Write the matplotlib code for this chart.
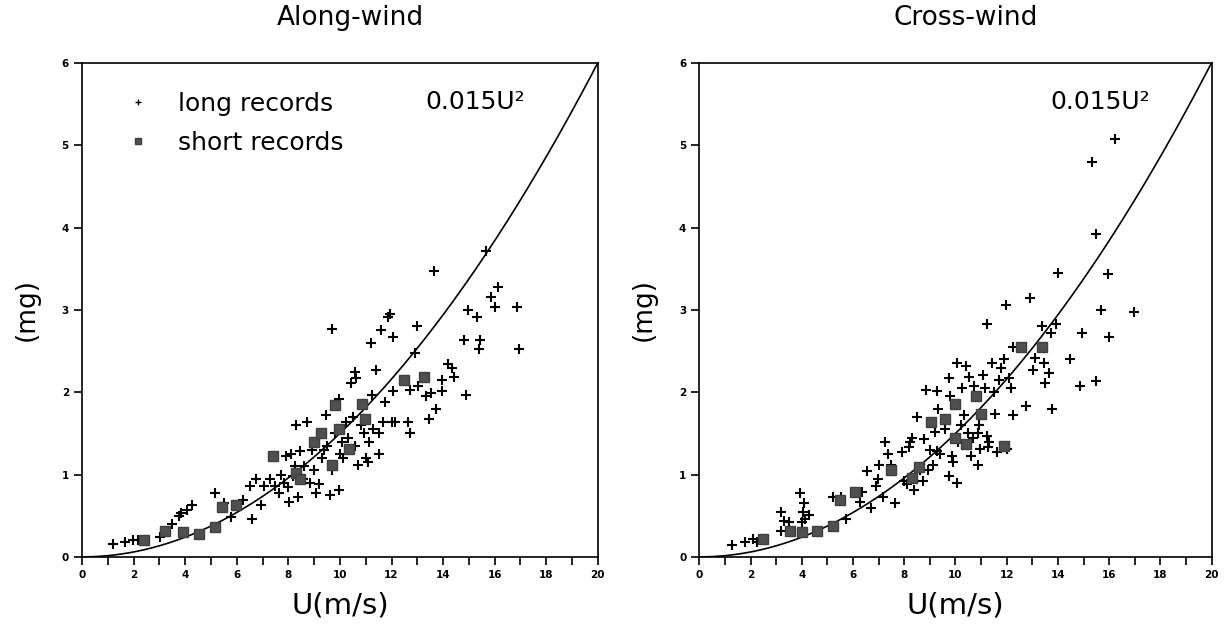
import numpy as np
import matplotlib
matplotlib.use("Agg")
import matplotlib.pyplot as plt
from matplotlib.ticker import MultipleLocator

# Along-wind, long records (U m/s, acceleration mg)
along_long_u = [1.21, 1.65, 1.99, 2.15, 3.02, 3.5, 3.77, 3.84, 4.05, 4.26, 5.15, 5.49, 5.77,
                6.25, 6.52, 6.59, 6.73, 6.93, 7.07, 7.27, 7.48, 7.62, 7.82, 7.89, 8.03, 8.1,
                8.17, 8.24, 8.37, 8.3, 8.44, 8.58, 8.72, 8.85, 9.06, 9.2, 9.47, 9.6, 9.68,
                9.95, 9.95, 10.09, 10.23, 10.43, 10.57, 10.64, 10.7, 10.92, 11.12, 11.19,
                11.26, 11.39, 11.53, 11.6, 11.66, 11.74, 11.87, 11.94, 12.01, 12.07, 12.07,
                12.14, 12.63, 12.7, 12.7, 12.9, 12.97, 13.04, 13.32, 13.45, 13.52, 13.66,
                13.73, 13.94, 13.94, 14.21, 14.35, 14.42, 14.83, 14.9, 14.97, 15.31, 15.38,
                15.44, 15.65, 15.86, 16.0, 16.13, 16.88, 16.95,
                8.9, 9.1, 9.3, 9.5, 9.8, 10.0, 10.3, 10.5, 10.8, 11.0, 11.3, 11.5, 8.6,
                9.0, 9.4, 9.7, 10.1, 10.6, 11.1, 7.7, 8.0, 8.5]
along_long_a = [0.156, 0.185, 0.2, 0.21, 0.24, 0.4, 0.5, 0.53, 0.57, 0.63, 0.77, 0.65, 0.49,
                0.69, 0.86, 0.46, 0.94, 0.63, 0.86, 0.94, 0.86, 0.77, 0.9, 1.23, 0.67, 1.25,
                0.98, 1.1, 0.73, 1.6, 1.29, 0.94, 1.64, 0.9, 0.77, 0.88, 1.72, 0.75, 2.77,
                0.81, 1.92, 1.39, 1.64, 2.11, 2.24, 2.17, 1.12, 1.51, 1.39, 2.6,
                1.97, 2.27, 1.25, 2.75, 1.64, 1.88, 2.91, 2.95, 1.64, 2.67, 2.01,
                1.64, 1.64, 1.51, 2.03, 2.48, 2.81, 2.07, 1.95, 1.68, 1.99, 3.47,
                1.8, 2.15, 2.01, 2.34, 2.3, 2.19, 2.64, 1.97, 3.0, 2.91, 2.52,
                2.64, 3.72, 3.16, 3.04, 3.28, 3.04, 2.52,
                1.3, 1.45, 1.2, 1.35, 1.5, 1.25, 1.45, 1.7, 1.6, 1.2, 1.55, 1.5, 1.1,
                1.05, 1.3, 1.05, 1.2, 1.35, 1.15, 1.0, 0.85, 0.95]
# Along-wind, short records
along_short_u = [2.4, 3.2, 3.91, 4.53, 5.15, 5.42, 5.97, 7.41, 8.3, 8.45, 8.99, 9.27, 9.68,
                 9.82, 9.95, 10.36, 10.85, 10.99, 12.49, 13.25]
along_short_a = [0.2, 0.32, 0.3, 0.28, 0.36, 0.61, 0.63, 1.23, 1.02, 0.95, 1.39, 1.51, 1.12,
                 1.84, 1.55, 1.31, 1.86, 1.68, 2.15, 2.19]

# Cross-wind, long records
cross_long_u = [1.28, 1.76, 2.09, 2.23, 3.18, 3.31, 3.18, 3.51, 3.92, 3.99, 4.05, 4.09, 4.12,
                4.26, 5.2, 5.54, 5.74, 6.35, 6.28, 6.55, 6.69, 6.89, 6.96, 7.03, 7.16, 7.23,
                7.36, 7.5, 7.64, 7.91, 7.97, 8.11, 8.18, 8.24, 8.31, 8.38, 8.51, 8.72, 8.78,
                8.85, 8.92, 9.12, 9.19, 9.26, 9.26, 9.32, 9.73, 9.73, 9.8, 9.86, 10.07, 10.07,
                10.2, 10.27, 10.34, 10.41, 10.54, 10.61, 10.74, 10.88, 10.88, 10.95, 11.08,
                11.15, 11.22, 11.22, 11.28, 11.42, 11.49, 11.55, 11.62, 11.69, 11.76, 11.89,
                11.96, 12.03, 12.09, 12.16, 12.23, 12.23, 12.77, 12.91, 13.04, 13.11, 13.38,
                13.45, 13.51, 13.65, 13.72, 13.78, 13.92, 13.99, 14.46, 14.86, 14.93, 15.34,
                15.47, 15.47, 15.68, 15.95, 16.01, 16.22, 16.96,
                9.0, 9.4, 9.6, 10.1, 10.5, 10.9, 11.3, 8.6, 9.9, 10.7]
cross_long_a = [0.14, 0.18, 0.22, 0.18, 0.55, 0.44, 0.32, 0.42, 0.77, 0.42, 0.55, 0.65, 0.46,
                0.51, 0.73, 0.73, 0.46, 0.79, 0.67, 1.04, 0.59, 0.86, 0.94, 1.12, 0.73, 1.39,
                1.25, 1.12, 0.65, 1.27, 0.92, 0.88, 1.33, 1.39, 1.45, 0.81, 1.7, 0.92, 1.43,
                2.03, 1.06, 1.12, 1.52, 2.01, 1.29, 1.8, 0.98, 2.17, 1.95, 1.23, 0.9, 2.36,
                1.6, 2.05, 1.72, 2.32, 2.19, 1.23, 2.08, 1.5, 1.12, 1.31, 2.21,
                2.05, 2.83, 1.47, 1.33, 2.36, 2.0, 1.74, 1.27, 2.15, 2.3, 2.4,
                3.06, 1.31, 2.17, 2.05, 2.55, 1.72, 1.83, 3.15, 2.27, 2.42, 2.8,
                2.36, 2.11, 2.23, 2.72, 1.8, 2.83, 3.45, 2.4, 2.08, 2.72, 4.79,
                3.92, 2.14, 3.0, 3.43, 2.67, 5.07, 2.98,
                1.3, 1.25, 1.55, 1.4, 1.5, 1.6, 1.4, 1.05, 1.15, 1.45]
# Cross-wind, short records
cross_short_u = [2.5, 3.55, 4.01, 4.59, 5.2, 5.47, 6.08, 7.5, 8.31, 8.58, 9.05, 9.59, 10.0,
                 10.0, 10.41, 10.81, 11.01, 11.89, 12.57, 13.38]
cross_short_a = [0.22, 0.32, 0.3, 0.32, 0.38, 0.69, 0.79, 1.06, 0.96, 1.09, 1.64, 1.68, 1.86,
                 1.45, 1.37, 1.95, 1.74, 1.35, 2.55, 2.55]

panels = [
    ("Along-wind", along_long_u, along_long_a, along_short_u, along_short_a, True),
    ("Cross-wind", cross_long_u, cross_long_a, cross_short_u, cross_short_a, False),
]

fig = plt.figure(figsize=(12.25, 6.35), dpi=100)
axes = [fig.add_axes([0.067, 0.123, 0.421, 0.778]),
        fig.add_axes([0.571, 0.123, 0.418, 0.778])]

u_fit = np.linspace(0, 20, 200)
for ax, (title, lu, la, su, sa, show_leg) in zip(axes, panels):
    ax.plot(u_fit, 0.015 * u_fit ** 2, color="black", lw=1.2)
    ax.plot(lu, la, ls="none", marker="+", ms=7, mew=1.5, color="black",
            label="long records")
    ax.plot(su, sa, ls="none", marker="s", ms=6.5, color="#505050", mec="#404040",
            label="short records")
    ax.set_xlim(0, 20)
    ax.set_ylim(0, 6)
    ax.xaxis.set_major_locator(MultipleLocator(2))
    ax.xaxis.set_minor_locator(MultipleLocator(1))
    ax.yaxis.set_major_locator(MultipleLocator(1))
    ax.tick_params(direction="out", length=6, width=1.2, labelsize=7.5)
    ax.tick_params(which="minor", direction="out", length=6, width=1.2)
    for lab in ax.get_xticklabels() + ax.get_yticklabels():
        lab.set_fontweight("bold")
    for sp in ax.spines.values():
        sp.set_linewidth(1.2)
    ax.set_title(title, fontsize=19, pad=27, x=0.52)
    ax.set_xlabel("U(m/s)", fontsize=21, labelpad=8)
    ax.set_ylabel("(mg)", fontsize=19, labelpad=16)
    ax.text(13.3 if show_leg else 13.7, 5.52, "0.015U²", fontsize=18, va="center")
    if show_leg:
        leg = ax.legend(loc="upper left", bbox_to_anchor=(0.06, 0.967), frameon=False,
                        prop={"size": 18}, handlelength=1.0, borderpad=0,
                        handletextpad=1.1, labelspacing=0.6)
        leg.legend_handles[0].set_markersize(5)
        leg.legend_handles[0].set_markeredgewidth(1.0)
        leg.legend_handles[1].set_markersize(4)

fig.savefig("out.png", dpi=100)
